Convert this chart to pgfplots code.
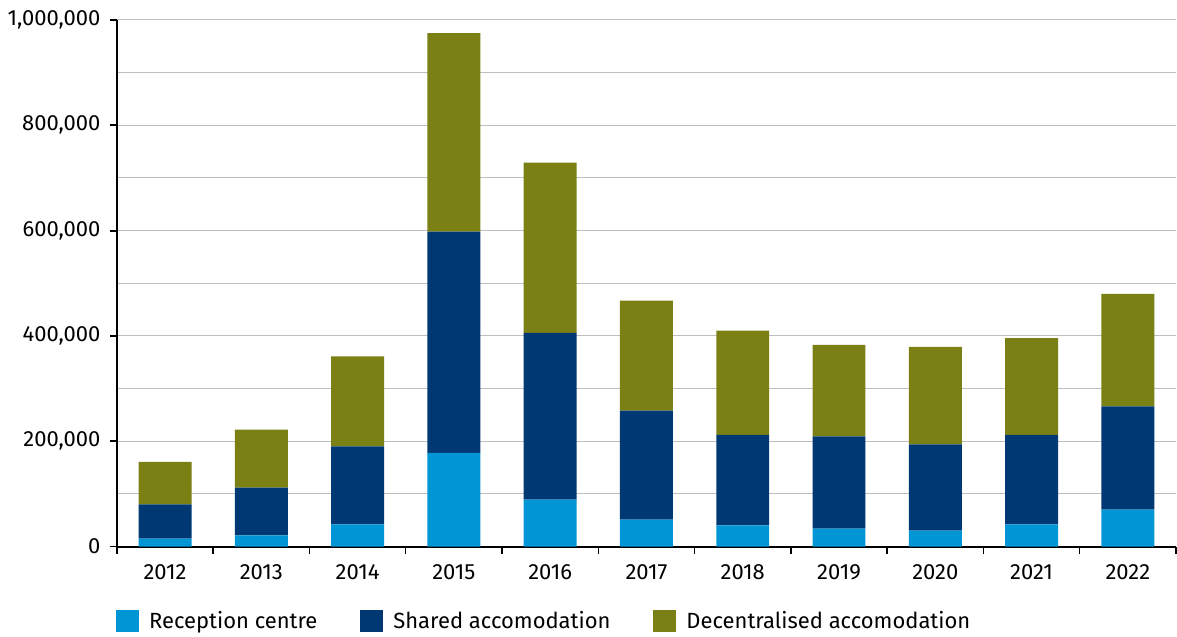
\documentclass[border=0pt]{standalone}
\usepackage{pgfplots}
\pgfplotsset{compat=1.18}
\usepackage{fontspec}
\setmainfont{Fira Sans}
\definecolor{rec}{RGB}{0,150,214}
\definecolor{sha}{RGB}{0,56,115}
\definecolor{dec}{RGB}{123,128,20}
\definecolor{grd}{RGB}{190,190,190}
\begin{document}
\fontsize{22bp}{26bp}\selectfont
\begin{tikzpicture}
\begin{axis}[name=ax,
  width=1060bp, height=527bp, scale only axis,
  ybar stacked, bar width=0.55,
  xmin=-0.5, xmax=10.5, ymin=0, ymax=1000000,
  axis lines*=left,
  axis line style={line width=2bp, black},
  xtick={0,...,10},
  xticklabels={2012,2013,2014,2015,2016,2017,2018,2019,2020,2021,2022},
  minor xtick={-0.5,0.5,...,10.5},
  major x tick style={draw=none},
  minor x tick style={black, line width=1.5bp},
  ytick={0,200000,...,1000000},
  minor ytick={100000,300000,...,900000},
  major y tick style={black, line width=1.8bp},
  minor y tick style={draw=none},
  tick align=outside,
  major tick length=7bp, minor tick length=7bp,
  ymajorgrids, yminorgrids,
  major grid style={grd, line width=1bp},
  minor grid style={grd, line width=1bp},
  scaled y ticks=false,
  yticklabel style={/pgf/number format/fixed, /pgf/number format/1000 sep={,}, xshift=-2bp},
  xticklabel style={yshift=-4bp},
  /pgf/number format/assume math mode=true,
  legend style={at={(0,0)}, anchor=north west, yshift=-61bp, xshift=-4bp, draw=none, fill=none,
    legend columns=-1,
    /tikz/every odd column/.append style={column sep=8bp},
    /tikz/every even column/.append style={column sep=41bp}},
  legend image code/.code={\fill[#1] (0bp,-10bp) rectangle (23bp,12bp);},
]
\addplot[fill=rec, draw=none] coordinates {(0,15000) (1,21000) (2,42000) (3,178000) (4,89000) (5,51000) (6,40000) (7,34000) (8,30000) (9,42000) (10,70000)};
\addplot[fill=sha, draw=none] coordinates {(0,65000) (1,91000) (2,148000) (3,420000) (4,317000) (5,207000) (6,172000) (7,175000) (8,164000) (9,170000) (10,196000)};
\addplot[fill=dec, draw=none] coordinates {(0,81000) (1,110000) (2,171000) (3,377000) (4,323000) (5,209000) (6,198000) (7,174000) (8,185000) (9,184000) (10,214000)};
\legend{Reception centre, Shared accomodation, Decentralised accomodation}
\end{axis}
\path (ax.south west) ++(-117bp,-87bp);
\path (ax.north east) ++(0,20bp);
\end{tikzpicture}
\end{document}
